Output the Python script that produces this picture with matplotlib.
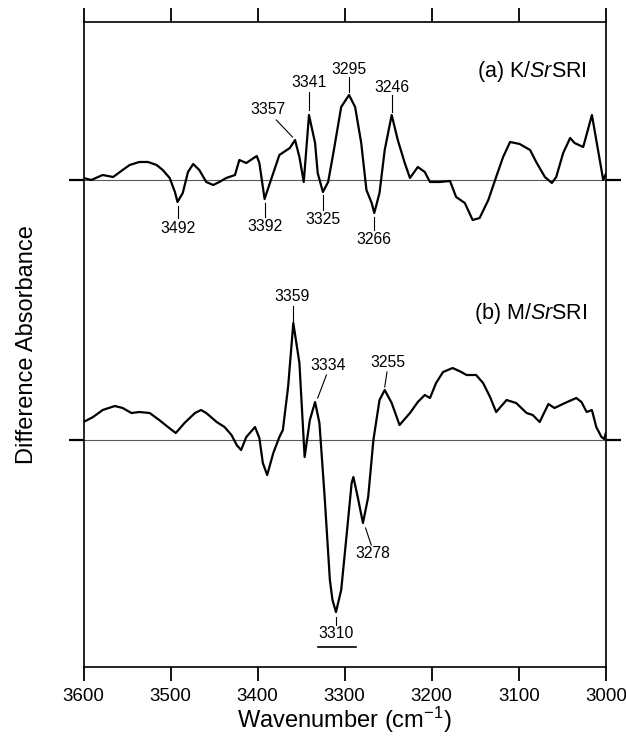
import matplotlib
matplotlib.use("Agg")
import matplotlib.pyplot as plt

plt.rcParams['font.family'] = ['Liberation Sans', 'DejaVu Sans']
plt.rcParams['mathtext.fontset'] = 'custom'
plt.rcParams['mathtext.rm'] = 'Liberation Sans'
plt.rcParams['mathtext.it'] = 'Liberation Sans:italic'

# spectrum (a) K/SrSRI  (arbitrary units, baseline 0)
wn_a = [3600, 3591, 3578, 3566, 3555, 3547, 3536, 3526, 3516, 3509, 3501, 3495, 3492,
        3486, 3480, 3474, 3467, 3459, 3451, 3444, 3436, 3426, 3421, 3413, 3401, 3398,
        3392, 3382, 3375, 3363, 3357, 3352, 3347, 3341, 3334, 3331, 3325, 3319, 3313,
        3304, 3295, 3288, 3281, 3275, 3269, 3266, 3260, 3254, 3246, 3239, 3231, 3225,
        3216, 3208, 3202, 3191, 3179, 3172, 3162, 3153, 3145, 3135, 3126, 3118, 3110,
        3099, 3087, 3080, 3070, 3062, 3057, 3049, 3041, 3036, 3026, 3016, 3011, 3003, 3000]
abs_a = [0.2, 0.0, 0.5, 0.3, 1.0, 1.5, 1.8, 1.8, 1.5, 1.0, 0.2, -1.2, -2.2,
         -1.3, 0.8, 1.6, 1.0, -0.2, -0.5, -0.2, 0.2, 0.5, 2.0, 1.7, 2.4, 1.7,
         -1.9, 0.7, 2.5, 3.2, 4.0, 2.3, -0.2, 6.5, 3.7, 0.7, -1.2, -0.2, 2.7,
         7.3, 8.5, 7.3, 3.7, -1.0, -2.3, -3.3, -1.3, 3.0, 6.5, 4.0, 1.7, 0.2,
         1.3, 0.8, -0.2, -0.2, -0.1, -1.7, -2.3, -4.0, -3.8, -2.0, 0.3, 2.3, 3.8,
         3.6, 3.0, 1.8, 0.3, -0.3, 0.3, 2.7, 4.2, 3.7, 3.3, 6.5, 4.0, 0.0, 0.6]

# spectrum (b) M/SrSRI
wn_b = [3600, 3589, 3578, 3564, 3555, 3545, 3536, 3524, 3513, 3503, 3494, 3484, 3472,
        3465, 3459, 3447, 3438, 3430, 3424, 3419, 3413, 3403, 3398, 3394, 3389, 3382,
        3375, 3371, 3365, 3359, 3352, 3346, 3340, 3334, 3329, 3323, 3317, 3314, 3310,
        3304, 3298, 3292, 3290, 3285, 3279, 3273, 3267, 3260, 3254, 3246, 3237, 3225,
        3216, 3208, 3202, 3195, 3187, 3176, 3166, 3160, 3149, 3141, 3133, 3126, 3114,
        3103, 3091, 3084, 3076, 3066, 3059, 3047, 3034, 3028, 3022, 3016, 3011, 3005,
        3002, 3000]
abs_b = [1.8, 2.3, 3.0, 3.4, 3.2, 2.7, 2.8, 2.7, 2.0, 1.3, 0.7, 1.7, 2.7,
         3.0, 2.7, 1.8, 1.3, 0.5, -0.5, -1.0, 0.3, 1.3, 0.2, -2.3, -3.5, -1.3,
         0.3, 1.0, 5.3, 11.7, 7.7, -1.7, 2.0, 3.8, 1.7, -5.7, -14.0, -16.0, -17.2,
         -15.0, -9.7, -4.3, -3.7, -5.7, -8.3, -5.7, 0.0, 4.0, 5.0, 3.7, 1.5, 2.7,
         3.8, 4.5, 4.2, 5.7, 6.8, 7.2, 6.8, 6.5, 6.5, 5.7, 4.3, 2.8, 4.0,
         3.7, 2.7, 2.5, 1.8, 3.6, 3.2, 3.7, 4.2, 3.8, 2.8, 3.0, 1.3, 0.3,
         0.1, 0.7]

offset_a = 0.0
offset_b = -26.0

peaks_a = [3492, 3392, 3357, 3341, 3325, 3295, 3266, 3246]
peaks_b = [3359, 3334, 3255, 3278, 3310]

fig = plt.figure(figsize=(6.26, 7.40), dpi=100)
ax = fig.add_axes([0.1334, 0.0986, 0.8344, 0.8717])

ax.axhline(offset_a, color='0.35', lw=0.8, zorder=1)
ax.axhline(offset_b, color='0.35', lw=0.8, zorder=1)
ax.plot(wn_a, [v + offset_a for v in abs_a], color='black', lw=1.6, zorder=2)
ax.plot(wn_b, [v + offset_b for v in abs_b], color='black', lw=1.6, zorder=2)

ax.set_xlim(3600, 3000)
ax.set_ylim(-48.7, 15.8)
ax.set_xticks([3600, 3500, 3400, 3300, 3200, 3100, 3000])
ax.set_yticks([offset_b, offset_a])
ax.set_yticklabels([])
ax.tick_params(axis='x', direction='out', length=10, width=1.3, top=True,
               labelsize=13.5, pad=5)
ax.tick_params(axis='y', direction='out', length=11, width=1.6, right=True)
for s in ax.spines.values():
    s.set_linewidth(1.2)

ax.set_xlabel('Wavenumber (cm$^{-1}$)', fontsize=17, labelpad=0)
ax.set_ylabel('Difference Absorbance', fontsize=17)
ax.yaxis.set_label_coords(-0.088, 0.5)

fs = 11.3
# (label x, label y, line x0, y0, x1, y1) for each annotated band
ann_a = [(3492, -4.9, 3492, -2.6, 3492, -3.8),
         (3392, -4.7, 3392, -2.3, 3392, -3.7),
         (3388.5, 7.0, 3378.5, 6.0, 3360, 4.3),
         (3341, 9.7, 3341, 8.8, 3341, 7.0),
         (3325, -4.0, 3325, -1.5, 3325, -3.0),
         (3295, 11.0, 3295, 10.3, 3295, 8.8),
         (3266, -6.0, 3266, -3.7, 3266, -5.0),
         (3246, 9.2, 3246, 8.5, 3246, 6.8)]
ann_b = [(3360, -11.6, 3359, -12.6, 3359, -14.2),
         (3319.5, -18.5, 3321, -19.5, 3331, -21.8),
         (3250.6, -18.2, 3251.4, -19.2, 3254, -20.7),
         (3268, -37.3, 3276, -34.8, 3269.5, -36.5),
         (3310, -45.3, 3310, -43.7, 3310, -44.5)]

for p, (lx, ly, x0, y0, x1, y1) in zip(peaks_a + peaks_b, ann_a + ann_b):
    ax.text(lx, ly, str(p), fontsize=fs, ha='center', va='center')
    ax.plot([x0, x1], [y0, y1], color='black', lw=0.8)

ax.plot([3331, 3287.4], [-46.7, -46.7], color='black', lw=1.2)

ax.text(3022, 10.8, '(a) K/$\\mathit{Sr}$SRI', fontsize=15.5, ha='right', va='center')
ax.text(3021, -13.3, '(b) M/$\\mathit{Sr}$SRI', fontsize=15.5, ha='right', va='center')

fig.savefig('out.png', dpi=100)
